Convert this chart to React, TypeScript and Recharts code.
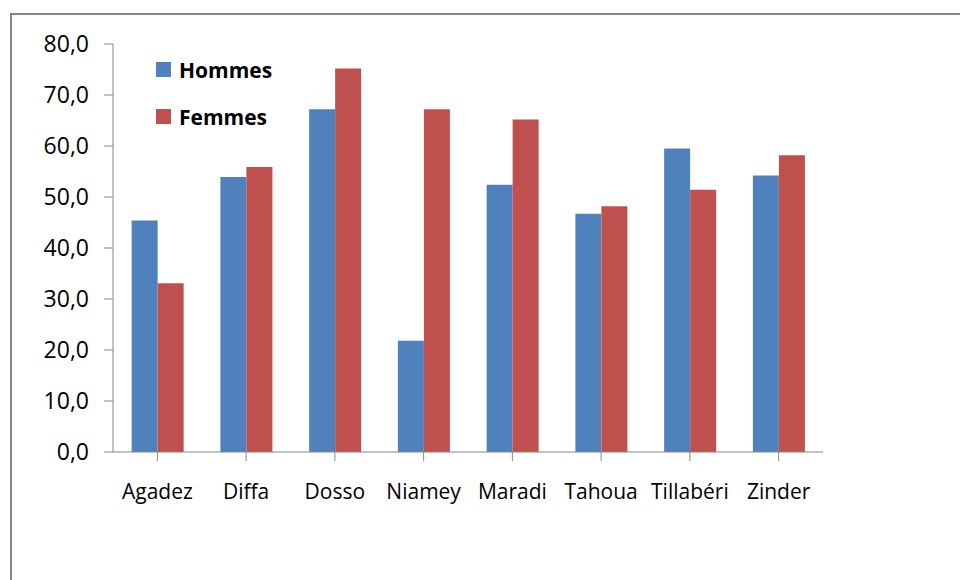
import React from 'react';
import { BarChart, Bar, XAxis, YAxis, Legend } from 'recharts';

const categories = ['Agadez', 'Diffa', 'Dosso', 'Niamey', 'Maradi', 'Tahoua', 'Tillabéri', 'Zinder'];
const hommes = [45.4, 53.9, 67.2, 21.8, 52.4, 46.7, 59.5, 54.2];
const femmes = [33.1, 55.9, 75.2, 67.2, 65.2, 48.2, 51.4, 58.2];
const yTicks = [0, 10, 20, 30, 40, 50, 60, 70, 80];
const seriesNames = ['Hommes', 'Femmes'];

const data = categories.map((c, i) => ({ name: c, hommes: hommes[i], femmes: femmes[i] }));

const FONT = '"Open Sans", sans-serif';
const GRAY = '#868686';

const renderLegend = (props: any) => {
  const payload = [...(props.payload || [])].sort(
    (a: any, b: any) => seriesNames.indexOf(a.value) - seriesNames.indexOf(b.value)
  );
  return (
    <div style={{ fontFamily: FONT }}>
      {payload.map((p: any, i: number) => (
        <div key={i} style={{ display: 'flex', alignItems: 'center', height: 47 }}>
          <span style={{ display: 'inline-block', width: 15, height: 15, background: p.color, marginRight: 8 }} />
          <span style={{ fontSize: 21, fontWeight: 700, color: '#000' }}>{p.value}</span>
        </div>
      ))}
    </div>
  );
};

export default function App() {
  return (
    <div style={{ position: 'absolute', left: 0, top: 0, width: 960, height: 580, overflow: 'hidden', background: '#fff' }}>
      <div style={{ position: 'absolute', left: 10, top: 13, width: 1000, height: 1000, border: `2px solid ${GRAY}` }} />
      <div style={{ position: 'absolute', left: 0, top: 0 }}>
        <BarChart
          width={960}
          height={580}
          data={data}
          margin={{ top: 44, right: 137, bottom: 98, left: 0 }}
          barCategoryGap="21%"
          barGap={0}
        >
          <XAxis
            dataKey="name"
            interval={0}
            height={30}
            tickSize={9}
            tickMargin={23}
            axisLine={{ stroke: GRAY }}
            tickLine={{ stroke: GRAY }}
            tick={{ fill: '#000', fontSize: 21, fontFamily: FONT }}
          />
          <YAxis
            width={113}
            domain={[0, 80]}
            ticks={yTicks}
            interval={0}
            tickSize={9}
            tickMargin={15}
            axisLine={{ stroke: GRAY }}
            tickLine={{ stroke: GRAY }}
            tick={{ fill: '#000', fontSize: 23, fontFamily: FONT }}
            tickFormatter={(v: number) => v.toFixed(1).replace('.', ',')}
          />
          <Legend
            layout="vertical"
            align="center"
            verticalAlign="middle"
            content={renderLegend}
            wrapperStyle={{ left: 156, top: 46, width: 200, height: 100 }}
          />
          <Bar dataKey="hommes" name={seriesNames[0]} fill="#4F81BD" isAnimationActive={false} />
          <Bar dataKey="femmes" name={seriesNames[1]} fill="#C0504D" isAnimationActive={false} />
        </BarChart>
      </div>
    </div>
  );
}
